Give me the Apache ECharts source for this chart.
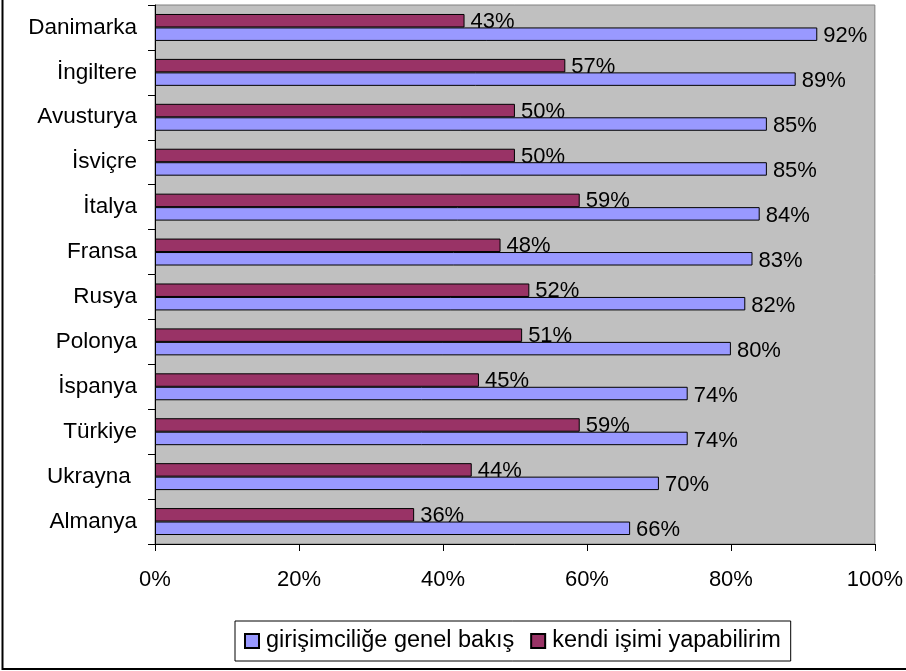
<!DOCTYPE html>
<html>
<head>
<meta charset="utf-8">
<script src="https://cdn.jsdelivr.net/npm/echarts@6/dist/echarts.min.js"></script>
<style>html,body{margin:0;padding:0;background:#fff;}#c{width:906px;height:671px;}</style>
</head>
<body>
<div id="c"></div>
<script>
const categories = ['Danimarka','İngiltere','Avusturya','İsviçre','İtalya','Fransa','Rusya','Polonya','İspanya','Türkiye','Ukrayna ','Almanya'];
const genelBakis = [92,89,85,85,84,83,82,80,74,74,70,66];
const kendiIsim = [43,57,50,50,59,48,52,51,45,59,44,36];
const xTicks = [0,20,40,60,80,100];
const seriesNames = ['girişimciliğe genel bakış','kendi işimi yapabilirim'];

const font = 'Arial, "Liberation Sans", sans-serif';
const chart = echarts.init(document.getElementById('c'), null, {renderer:'canvas'});
const labelBase = {show:true, position:'right', distance:6, color:'#000', fontSize:22, fontFamily:font, formatter: p => p.value + '%'};
chart.setOption({
  animation:false,
  backgroundColor:'#fff',
  grid:{left:155, right:31, top:5, bottom:127, show:true, backgroundColor:'#C0C0C0', borderColor:'#808080', borderWidth:1},
  xAxis:{type:'value', min:0, max:100, interval:20,
    axisLine:{show:true, lineStyle:{color:'#000', width:1}},
    axisTick:{show:true, length:7, inside:false, lineStyle:{color:'#000'}},
    splitLine:{show:false},
    axisLabel:{color:'#000', fontSize:22, fontFamily:font, margin:25, formatter: v => xTicks.includes(v) ? v + '%' : ''}},
  yAxis:{type:'category', data:categories, inverse:true,
    axisLine:{show:true, lineStyle:{color:'#000', width:1}},
    axisTick:{show:true, length:7, lineStyle:{color:'#000'}},
    axisLabel:{color:'#000', fontSize:22.5, fontFamily:font, margin:18}},
  legend:{left:235, top:621, orient:'horizontal', data:seriesNames,
    backgroundColor:'#fff', borderColor:'#000', borderWidth:1, padding:[8,10,8,9],
    itemWidth:14, itemHeight:14, itemGap:16, icon:'rect',
    textStyle:{color:'#000', fontSize:23.5, fontFamily:font, padding:[0,0,0,2]}},
  series:[
    {name:seriesNames[1], type:'bar', data:kendiIsim, barGap:'0%', barCategoryGap:'40%',
      itemStyle:{color:'#993366', borderColor:'#000', borderWidth:1},
      label:Object.assign({}, labelBase, {offset:[0,1]})},
    {name:seriesNames[0], type:'bar', data:genelBakis, barGap:'0%', barCategoryGap:'40%',
      itemStyle:{color:'#9999FF', borderColor:'#000', borderWidth:1},
      label:Object.assign({}, labelBase, {offset:[0,2]})}
  ],
  graphic:[
    {type:'rect', shape:{x:2.5, y:-10, width:960, height:679}, style:{fill:null, stroke:'#000', lineWidth:2}, silent:true}
  ]
});
</script>
</body>
</html>
